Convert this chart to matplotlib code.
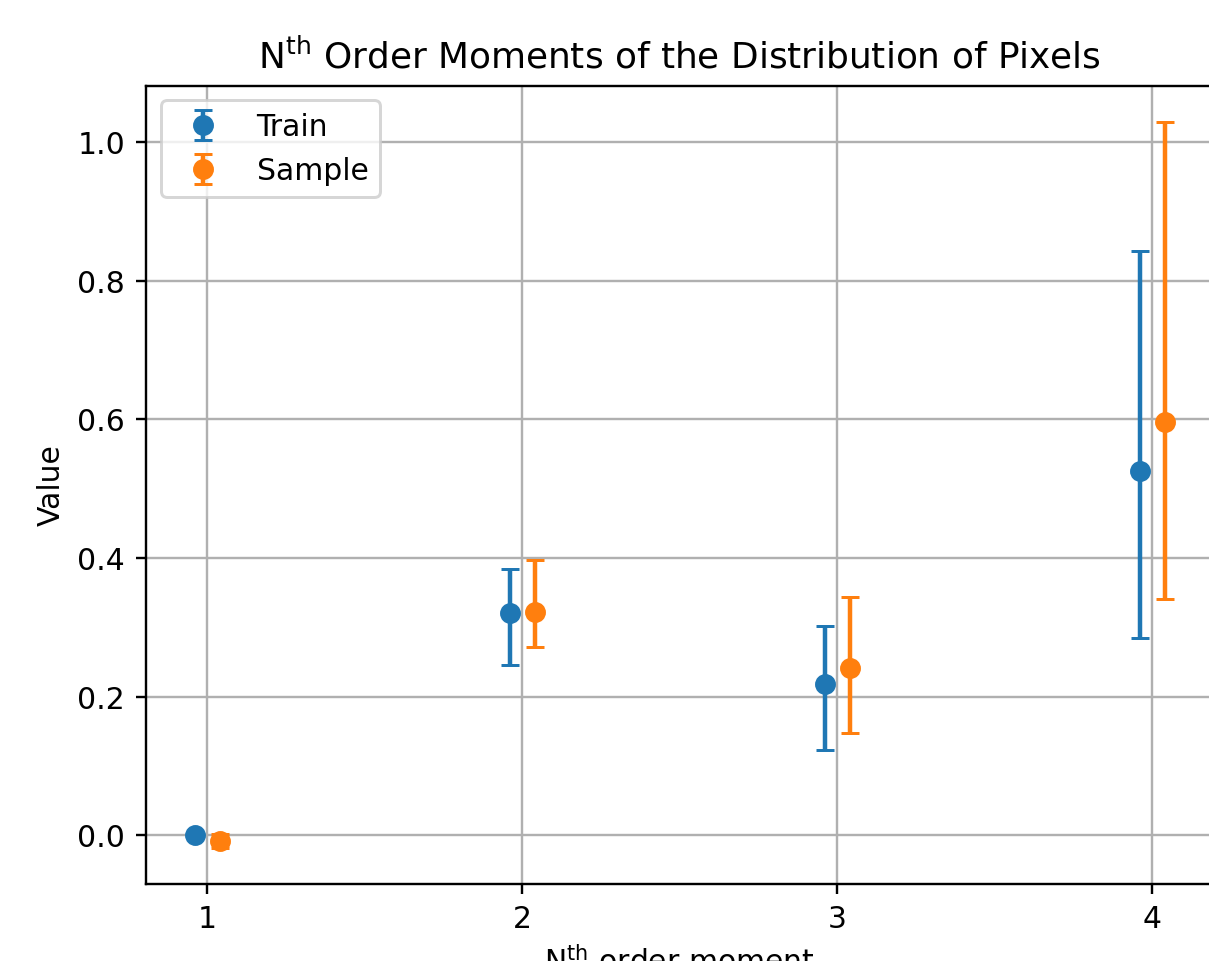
import matplotlib
matplotlib.use("Agg")
import matplotlib.pyplot as plt
import numpy as np

# moment order and offsets for the two series
orders = [1, 2, 3, 4]
offset = 0.04

train_mean = [0.000, 0.321, 0.218, 0.526]
train_lower = [0.000, 0.245, 0.123, 0.285]
train_upper = [0.000, 0.384, 0.302, 0.843]

sample_mean = [-0.008, 0.322, 0.241, 0.596]
sample_lower = [-0.018, 0.271, 0.147, 0.341]
sample_upper = [0.002, 0.397, 0.343, 1.029]

DPI = 215


def main():
    # half a pixel extra so the pixel count doesn't round down
    fig = plt.figure(figsize=(1209.5 / DPI, 961.5 / DPI), dpi=DPI)
    ax = fig.add_axes([146 / 1209, 77 / 961, 1067 / 1209, 798 / 961])

    x = np.array(orders)
    tm = np.array(train_mean)
    sm = np.array(sample_mean)
    terr = [tm - np.array(train_lower), np.array(train_upper) - tm]
    serr = [sm - np.array(sample_lower), np.array(sample_upper) - sm]

    ax.errorbar(x - offset, tm, yerr=terr, fmt='o', capsize=3, label='Train')
    ax.errorbar(x + offset, sm, yerr=serr, fmt='o', capsize=3, label='Sample')

    ax.set_xticks(orders)
    ax.set_title('N$^{\\mathrm{th}}$ Order Moments of the Distribution of Pixels')
    ax.set_xlabel('N$^{\\mathrm{th}}$ order moment')
    ax.set_ylabel('Value')
    ax.grid(True)
    ax.legend(loc='upper left')

    fig.savefig('out.png', dpi=DPI)


main()
